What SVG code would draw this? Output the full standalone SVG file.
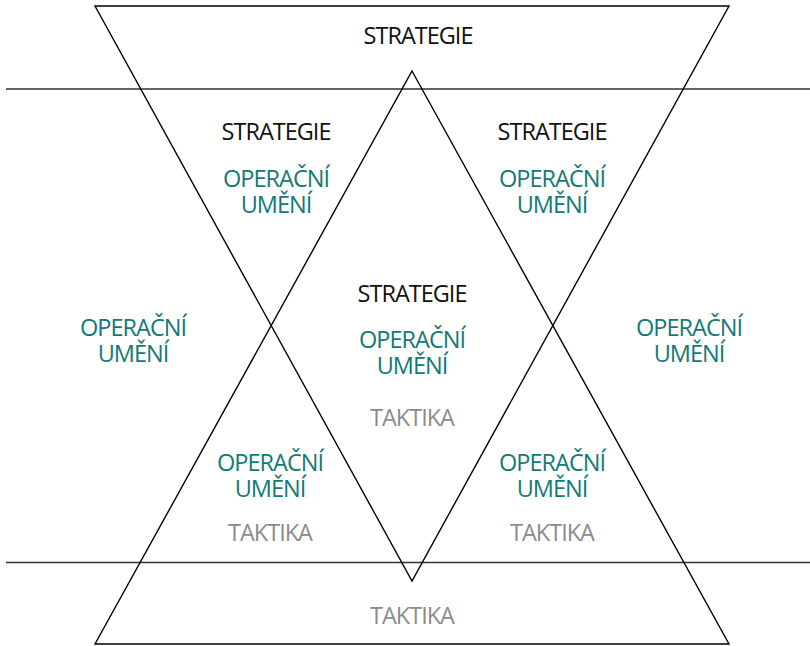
<svg xmlns="http://www.w3.org/2000/svg" width="810" height="646" viewBox="0 0 810 646">
<style>
.ln{stroke:#000;stroke-width:1.4;fill:none}
.hl{stroke:#333;stroke-width:1.4;fill:none}
text{font-family:"Open Sans","Noto Sans",sans-serif;font-size:23.5px;text-anchor:middle;letter-spacing:-1px}
.s{fill:#111}
.o{fill:#137a75}
.t{fill:#8c8c8c}
</style>
<rect width="810" height="646" fill="#fff"/>
<g id="connectors">
<line class="hl" x1="6" y1="89" x2="810" y2="89"/>
<line class="hl" x1="6" y1="562.5" x2="810" y2="562.5"/>
<polygon class="ln" points="95,6 729,6 412,581"/>
<polygon class="ln" points="412,71 729,644 95,644"/>
</g>
<g id="top"><text class="s" x="418" y="44">STRATEGIE</text></g>
<g id="upper-left"><text class="s" x="276" y="140">STRATEGIE</text><text class="o" x="276" y="187">OPERAČNÍ</text><text class="o" x="276" y="213">UMĚNÍ</text></g>
<g id="upper-right"><text class="s" x="552" y="140">STRATEGIE</text><text class="o" x="552" y="187">OPERAČNÍ</text><text class="o" x="552" y="213">UMĚNÍ</text></g>
<g id="center"><text class="s" x="412" y="302">STRATEGIE</text><text class="o" x="412" y="348">OPERAČNÍ</text><text class="o" x="412" y="374">UMĚNÍ</text><text class="t" x="412" y="426">TAKTIKA</text></g>
<g id="left"><text class="o" x="133" y="336">OPERAČNÍ</text><text class="o" x="133" y="362">UMĚNÍ</text></g>
<g id="right"><text class="o" x="689" y="336">OPERAČNÍ</text><text class="o" x="689" y="362">UMĚNÍ</text></g>
<g id="lower-left"><text class="o" x="270" y="471">OPERAČNÍ</text><text class="o" x="270" y="497">UMĚNÍ</text><text class="t" x="270" y="541">TAKTIKA</text></g>
<g id="lower-right"><text class="o" x="552" y="471">OPERAČNÍ</text><text class="o" x="552" y="497">UMĚNÍ</text><text class="t" x="552" y="541">TAKTIKA</text></g>
<g id="bottom"><text class="t" x="412" y="624">TAKTIKA</text></g>
</svg>
